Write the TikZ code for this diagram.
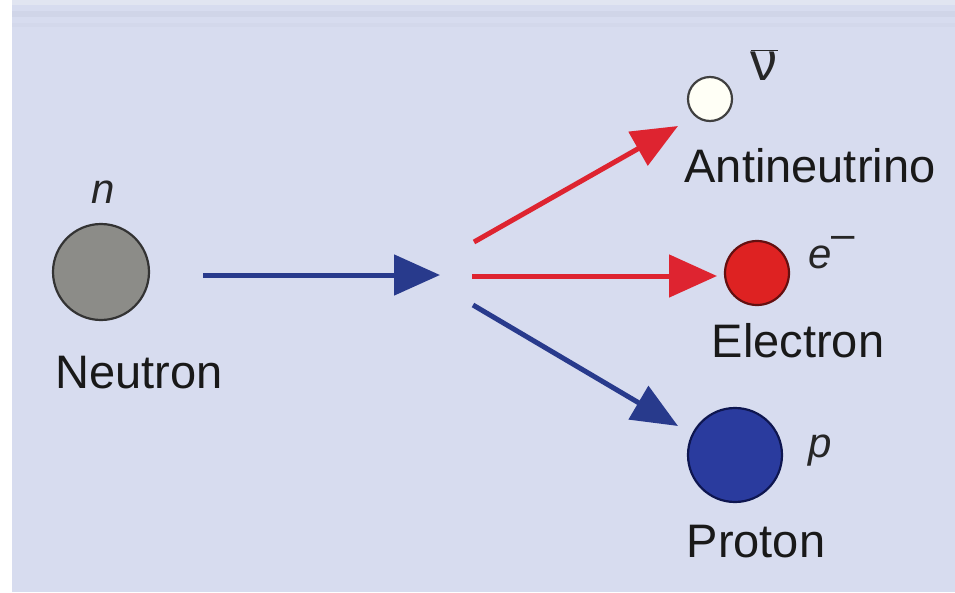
\documentclass[tikz,border=0pt]{standalone}
\usepackage{fontspec}
\setmainfont{Liberation Sans}
\usetikzlibrary{arrows.meta}
\definecolor{panel}{RGB}{215,220,239}
\definecolor{topstrip}{RGB}{225,229,241}
\definecolor{band}{RGB}{208,213,232}
\definecolor{arrred}{RGB}{222,36,48}
\definecolor{arrblue}{RGB}{40,58,140}
\definecolor{ngray}{RGB}{140,140,136}
\definecolor{ered}{RGB}{222,34,34}
\definecolor{eredline}{RGB}{100,16,16}
\definecolor{pblue}{RGB}{42,59,158}
\definecolor{pblueline}{RGB}{14,22,80}
\tikzset{
  particle/.style={circle, inner sep=0pt, line width=2.2pt},
  lbl/.style={font=\fontsize{47}{50}\selectfont, inner sep=0pt, anchor=base, text=black!90},
  sym/.style={font=\fontsize{42}{44}\selectfont\itshape, inner sep=0pt, anchor=base, text=black!85},
  redarrow/.style={draw=arrred, line width=5pt, -{Triangle[length=48pt,width=42pt]}, fill=arrred},
  bluearrow/.style={draw=arrblue, line width=5pt, -{Triangle[length=46pt,width=40pt]}, fill=arrblue}
}
\begin{document}
\begin{tikzpicture}[x=1pt,y=-1pt]
\useasboundingbox (0,0) rectangle (955,592);
\fill[white] (0,0) rectangle (955,592);
\fill[topstrip] (12,0) rectangle (955,5);
\fill[panel] (12,5) rectangle (955,592);
\fill[band] (12,11) rectangle (955,17);
\fill[band!60!panel] (12,23) rectangle (955,27);

% particles
\node[particle, draw=black!80, fill=ngray, minimum size=96pt] (neu) at (101,272) {};
\node[particle, draw=black!75, fill={rgb,255:red,255;green,255;blue,246}, minimum size=44pt] (anu) at (710,99) {};
\node[particle, draw=eredline, fill=ered, minimum size=64pt] (ele) at (757,273) {};
\node[particle, draw=pblueline, fill=pblue, minimum size=94pt] (pro) at (735,455) {};

% labels
\node[lbl] (lneu) at (139,388) {Neutron};
\node[lbl] (lanu) at (810,182) {Antineutrino};
\node[lbl] (lele) at (798,357) {Electron};
\node[lbl] (lpro) at (756,557) {Proton};

\node[sym] (sn) at (103,203) {n};
\node[sym] (sp) at (820,457) {p};
\node[sym, anchor=base west] (se) at (808,268) {e\raisebox{20pt}{\upshape –}};
\node[inner sep=0pt, anchor=base, font=\fontsize{54}{56}\selectfont, text=black!85] (snu) at (764,80) {$\overline{\hbox{ν}}$};

% connectors
\coordinate (s0) at (203,275);
\coordinate (t0) at (440,275);
\coordinate (s1) at (474,242);
\coordinate (t1) at (678,126);
\coordinate (s2) at (472,276);
\coordinate (t2) at (717,276);
\coordinate (s3) at (473,305);
\coordinate (t3) at (678,426);

\draw[bluearrow] (s0) -- (t0);
\draw[redarrow, -{Triangle[length=46pt,width=38pt]}] (s1) -- (t1);
\draw[redarrow] (s2) -- (t2);
\draw[bluearrow, -{Triangle[length=46pt,width=38pt]}] (s3) -- (t3);
\end{tikzpicture}
\end{document}
